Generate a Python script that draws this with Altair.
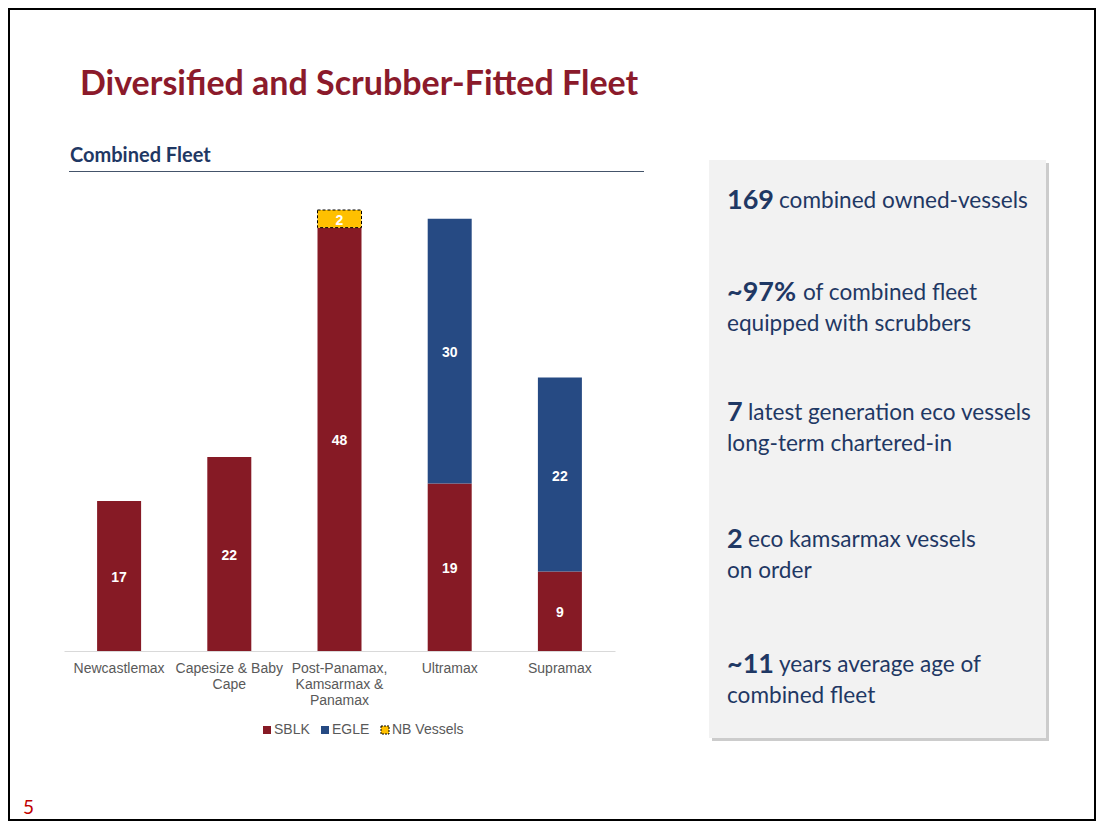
import altair as alt
import pandas as pd

# ---------------- data ----------------
categories = ["Newcastlemax", "Capesize & Baby Cape", "Post-Panamax, Kamsarmax & Panamax", "Ultramax", "Supramax"]
tick_labels = [["Newcastlemax"], ["Capesize & Baby", "Cape"], ["Post-Panamax,", "Kamsarmax &", "Panamax"], ["Ultramax"], ["Supramax"]]
series = ["SBLK", "EGLE", "NB Vessels"]
sblk = [17, 22, 48, 19, 9]
egle = [0, 0, 0, 30, 22]
nb = [0, 0, 2, 0, 0]
colors = ["#861A25", "#264A83", "#FFC000"]
outline_colors = ["transparent", "transparent", "black"]

highlights = [
    ("169", ["combined owned-vessels"]),
    ("~97%", ["of combined fleet", "equipped with scrubbers"]),
    ("7", ["latest generation eco vessels", "long-term chartered-in"]),
    ("2", ["eco kamsarmax vessels", "on order"]),
    ("~11", ["years average age of", "combined fleet"]),
]
title_text = "Diversified and Scrubber-Fitted Fleet"
subtitle_text = "Combined Fleet"
page_number = "5"

rows = []
for i, c in enumerate(categories):
    for s, vals in zip(series, [sblk, egle, nb]):
        if vals[i] > 0:
            rows.append({"category": c, "series": s, "value": vals[i]})
df = pd.DataFrame(rows)

# ---------------- layout helpers (reference pixel -> plot coords) ----------------
OX, OY = 64, 210   # reference position of plot origin
W, H = 551, 441


def X(v):
    return v - OX


def Y(v):
    return v - OY


one = alt.InlineData(values=[{"k": 1}])


def rect(x1, y1, x2, y2, **kw):
    return alt.Chart(one).mark_rect(**kw).encode(
        x=alt.value(X(x1)), x2=alt.value(X(x2)), y=alt.value(Y(y1)), y2=alt.value(Y(y2))
    )


def text(t, x, y, **kw):
    return alt.Chart(one).mark_text(text=t, align="left", baseline="middle", **kw).encode(
        x=alt.value(X(x)), y=alt.value(Y(y))
    )


NAVY = "#1F3864"
BOX_FONT = "Lato"

layers = []
# slide border
layers.append(rect(9, 9, 1095, 820, fill=None, stroke="black", strokeWidth=2))
# right box with shadow
layers.append(rect(712, 163, 1049, 741, fill="#BFBFBF", opacity=0.8))
layers.append(rect(709, 160, 1046, 738, fill="#F2F2F2"))
# subtitle underline
layers.append(rect(69, 171, 644, 172, fill="#44546A"))

# ---------------- bars ----------------
order_expr = "indexof(" + str(series) + ", datum.series)"
label_expr = "%s[indexof(%s, datum.label)]" % (str(tick_labels), str(categories))

base = alt.Chart(df).transform_calculate(ord=order_expr).transform_stack(
    stack="value", groupby=["category"], as_=["v0", "v1"], sort=[alt.SortField("ord", order="ascending")]
).transform_calculate(mid="(datum.v0 + datum.v1) / 2")

xenc = alt.X(
    "category:N",
    sort=categories,
    title=None,
    scale=alt.Scale(paddingInner=0.6, paddingOuter=0.3),
    axis=alt.Axis(
        labelExpr=label_expr,
        labelAngle=0,
        labelFont="Liberation Sans",
        labelFontSize=14,
        labelColor="#595959",
        labelLineHeight=16,
        labelPadding=10,
        labelLimit=200,
        labelBaseline="top",
        ticks=False,
        domainColor="#D9D9D9",
        domainWidth=1,
        grid=False,
    ),
)
yscale = alt.Scale(domain=[0, 50], nice=False, zero=True)

legend = alt.Legend(
    title=None,
    orient="none",
    direction="horizontal",
    legendX=X(260),
    legendY=Y(723),
    symbolType="square",
    symbolSize=64,
    symbolStrokeWidth=1,
    symbolDash=[2, 1],
    labelFont="Liberation Sans",
    labelFontSize=14,
    labelColor="#595959",
    labelOffset=0,
    columnPadding=8,
    padding=0,
)

bars = base.mark_bar(size=44, strokeWidth=1, strokeDash=[3, 2]).encode(
    x=xenc,
    y=alt.Y("v0:Q", scale=yscale, axis=None),
    y2="v1:Q",
    color=alt.Color("series:N", scale=alt.Scale(domain=series, range=colors), legend=legend),
    stroke=alt.Stroke("series:N", scale=alt.Scale(domain=series, range=outline_colors), legend=legend),
)

bar_labels = base.mark_text(
    font="Liberation Sans", fontSize=14, fontWeight="bold", color="white", baseline="middle", dy=2
).encode(x=alt.X("category:N", sort=categories), y=alt.Y("mid:Q", scale=yscale), text="value:Q")

layers += [bars, bar_labels]

# ---------------- texts ----------------
layers.append(text(title_text, 80, 85, font="Lato", fontSize=34, fontWeight="bold", color="#8B1A2B"))
layers.append(text(subtitle_text, 70, 156, font="Lato", fontSize=20, fontWeight="bold", color=NAVY))
layers.append(text(page_number, 23, 808, font="Lato", fontSize=19, color="#C00000"))

line_y = [[201], [293, 324], [413, 444], [540, 571], [665, 696]]
reg_x = [779, 803, 748, 748, 779]
for (num, lines), ys, rx in zip(highlights, line_y, reg_x):
    layers.append(text(num, 727, ys[0], font=BOX_FONT, fontSize=27, fontWeight="bold", color=NAVY))
    layers.append(text(lines[0], rx, ys[0], font=BOX_FONT, fontSize=22.6, color=NAVY))
    if len(lines) > 1:
        layers.append(text(lines[1], 727, ys[1], font=BOX_FONT, fontSize=22.6, color=NAVY))

chart = alt.layer(*layers).properties(
    width=W,
    height=H,
    padding={"left": OX - 8, "top": OY - 8, "right": 1088 - (OX - 8) - W, "bottom": 813 - (OY - 8) - H},
    autosize=alt.AutoSizeParams(type="none"),
    background="white",
).configure_view(stroke=None)

chart.save("out.html", embed_options={"renderer": "svg", "actions": False})
